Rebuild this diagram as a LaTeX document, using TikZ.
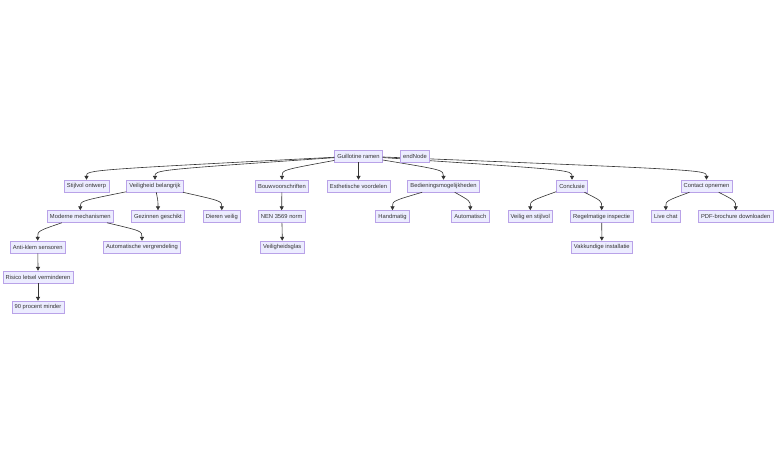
\documentclass[tikz,border=0pt]{standalone}
\usepackage{fontspec}
\setmainfont{Liberation Sans}
\usetikzlibrary{arrows.meta}
\definecolor{nodefill}{HTML}{ECECFF}
\definecolor{nodeline}{HTML}{9370DB}
\definecolor{txtc}{HTML}{333333}
\definecolor{edgec}{HTML}{333333}
\newcommand\mmedge[3]{\draw[edge] (#1) .. controls (#2.north |- #3) and (#2.north |- #3) .. (#2.north);}
\begin{document}
\begin{tikzpicture}[x=1pt,y=-1pt,
 box/.style={draw=nodeline!65!white, fill=nodefill, line width=0.55pt, text=txtc,
   font=\fontsize{5.8}{7}\selectfont, inner xsep=2.8pt, inner ysep=0pt, minimum height=12pt},
 edge/.style={draw=edgec, line width=0.6pt, -{Triangle[length=3.8pt,width=4pt]}}]
\useasboundingbox[fill=white] (0,0) rectangle (784,464);
\coordinate (r1) at (0,170);
\coordinate (r2) at (0,201);
\coordinate (r3) at (0,231);
\coordinate (r4) at (0,261);
\coordinate (r5) at (0,291);
% row 1
\node[box] (g) at (358.5,156) {Guillotine ramen};
% row 2
\node[box] (so) at (86.5,186) {Stijlvol ontwerp};
\node[box] (vb) at (155,186) {Veiligheid belangrijk};
\node[box] (bv) at (282,186) {Bouwvoorschriften};
\node[box] (ev) at (358.5,186) {Esthetische voordelen};
\node[box] (bm) at (443.5,186) {Bedieningsmogelijkheden};
\node[box] (co) at (572,186) {Conclusie};
\node[box] (cn) at (706.5,186) {Contact opnemen};
% row 3
\node[box] (mm) at (80.3,216.5) {Moderne mechanismen};
\node[box] (gg) at (158,216.5) {Gezinnen geschikt};
\node[box] (dv) at (221.8,216.5) {Dieren veilig};
\node[box] (nen) at (281.7,216.5) {NEN 3569 norm};
\node[box] (hm) at (392.5,216.5) {Handmatig};
\node[box] (am) at (470.3,216.5) {Automatisch};
\node[box] (ves) at (530.3,216.5) {Veilig en stijlvol};
\node[box] (ri) at (601.7,216.5) {Regelmatige inspectie};
\node[box] (lc) at (665.8,216.5) {Live chat};
\node[box] (pdf) at (735.7,216.5) {PDF-brochure downloaden};
% row 4
\node[box] (aks) at (37.7,247) {Anti-klem sensoren};
\node[box] (avg) at (142,247) {Automatische vergrendeling};
\node[box] (vg) at (282.2,247) {Veiligheidsglas};
\node[box] (vi) at (601.8,247) {Vakkundige installatie};
% row 5
\node[box] (rlv) at (38,277) {Risico letsel verminderen};
% row 6
\node[box] (pm) at (38,307) {90 procent minder};
% edges
\mmedge{g}{so}{r1}
\mmedge{g}{vb}{r1}
\mmedge{g}{bv}{r1}
\mmedge{g}{ev}{r1}
\mmedge{g}{bm}{r1}
\mmedge{g}{co}{r1}
\mmedge{g}{cn}{r1}
\mmedge{vb}{mm}{r2}
\mmedge{vb}{gg}{r2}
\mmedge{vb}{dv}{r2}
\mmedge{bv}{nen}{r2}
\mmedge{bm}{hm}{r2}
\mmedge{bm}{am}{r2}
\mmedge{co}{ves}{r2}
\mmedge{co}{ri}{r2}
\mmedge{cn}{lc}{r2}
\mmedge{cn}{pdf}{r2}
\mmedge{mm}{aks}{r3}
\mmedge{mm}{avg}{r3}
\mmedge{nen}{vg}{r3}
\mmedge{ri}{vi}{r3}
\mmedge{aks}{rlv}{r4}
\mmedge{rlv}{pm}{r5}
% endNode on top
\node[box] (en) at (415,156) {endNode};
\end{tikzpicture}
\end{document}
